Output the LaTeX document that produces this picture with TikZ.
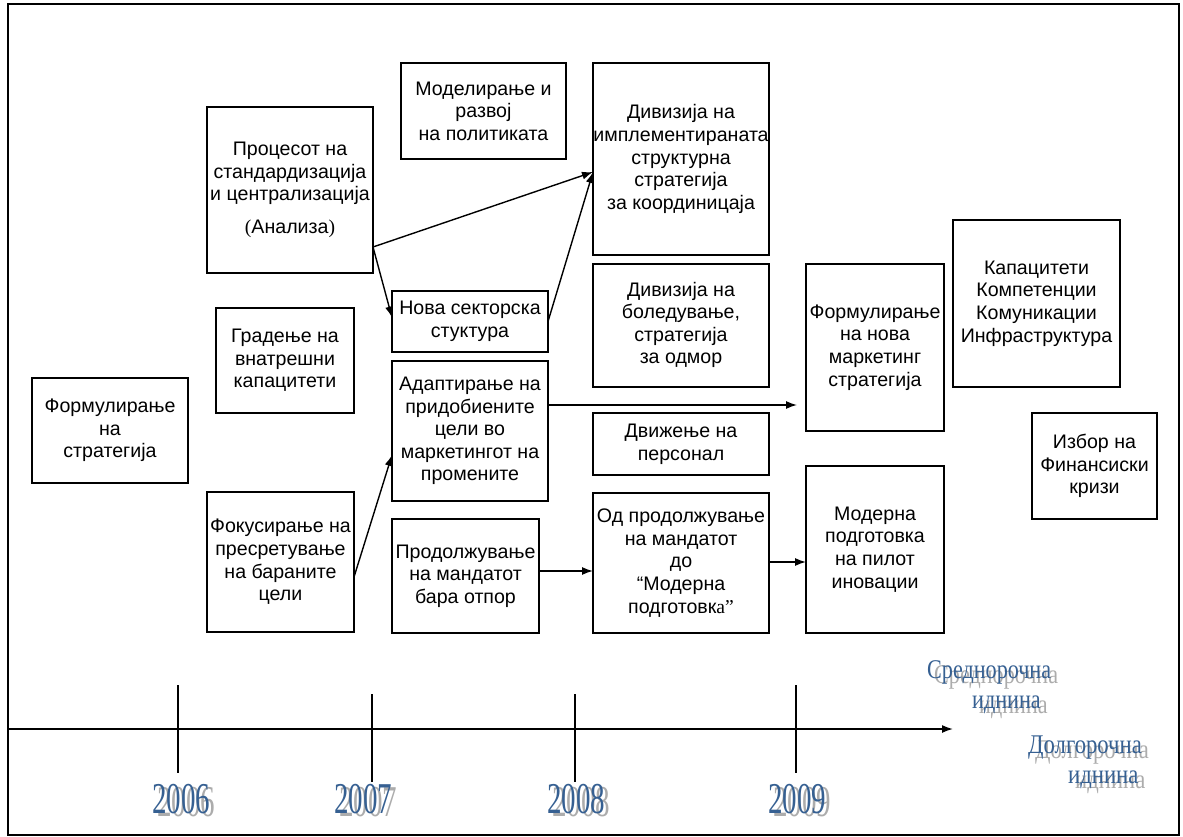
\documentclass[tikz,border=0pt]{standalone}
\usepackage{graphicx}
\usepackage{fontspec}
\setmainfont{Liberation Sans}
\newfontfamily\serifx{Liberation Serif}
\usetikzlibrary{arrows.meta,calc}
\definecolor{yearblue}{RGB}{54,96,146}
\definecolor{shadowgray}{RGB}{172,172,172}
% blue text with a grey drop shadow behind it: #1 x offset, #2 y offset, #3 horizontal scale, #4 text
\newcommand\shadetext[4]{%
  \rlap{\hspace{#1}\raisebox{-#2}{\textcolor{shadowgray}{\scalebox{#3}[1]{#4}}}}%
  \textcolor{yearblue}{\scalebox{#3}[1]{#4}}}
\begin{document}
\begin{tikzpicture}[x=1pt,y=-1pt,
  box/.style={draw, line width=1.1pt, inner sep=0pt, outer sep=0pt, align=center,
    font=\fontsize{19.6}{22.6}\selectfont},
  link/.style={line width=1.4pt, -{Latex[length=11pt,width=8pt]}},
  axis/.style={line width=1.6pt, -{Latex[length=11pt,width=8pt]}},
  tickline/.style={line width=1.1pt},
  year/.style={inner sep=0pt, anchor=base west,
    font=\serifx\fontsize{44}{44}\selectfont},
  horizon/.style={inner sep=0pt, anchor=base west,
    font=\serifx\fontsize{27}{27}\selectfont},
  ]
\useasboundingbox (0,0) rectangle (1183,837);
\draw[line width=1.2pt] (8,4) rectangle (1179,835);

% strategy boxes
\node[box, minimum width=166pt, minimum height=166pt] (proc) at (290,190)
  {Процесот на\\стандардизација\\и централизација\\[10pt]{\serifx(}Анализа{\serifx)}};
\node[box, minimum width=165pt, minimum height=96pt] (model) at (483.5,111)
  {Моделирање и\\развој\\на политиката};
\node[box, minimum width=176pt, minimum height=192pt] (divimpl) at (681,159)
  {Дивизија на\\имплементираната\\структурна\\стратегија\\за координицаја};
\node[box, minimum width=176pt, minimum height=123pt] (divbol) at (681,325.5)
  {\raisebox{-4pt}{\begin{tabular}{@{}c@{}}Дивизија на\\боледување,\\стратегија\\за одмор\end{tabular}}};
\node[box, minimum width=156pt, minimum height=61pt] (nova) at (470,321.5)
  {\raisebox{-6pt}{\begin{tabular}{@{}c@{}}Нова секторска\\стуктура\end{tabular}}};
\node[box, minimum width=156pt, minimum height=140pt] (adapt) at (470,431)
  {Адаптирање на\\придобиените\\цели во\\маркетингот на\\промените};
\node[box, minimum width=176pt, minimum height=62pt] (dvizh) at (681,444)
  {Движење на\\персонал};
\node[box, minimum width=147pt, minimum height=114pt] (prod) at (465.5,576)
  {Продолжување\\на мандатот\\бара отпор};
\node[box, minimum width=176pt, minimum height=140pt] (od) at (681,563)
  {Од продолжување\\на мандатот\\до\\“Модерна\\подготовк{\serifx а”}};
\node[box, minimum width=138pt, minimum height=167pt] (formnova) at (875,347.5)
  {Формулирање\\на нова\\маркетинг\\стратегија};
\node[box, minimum width=167pt, minimum height=167pt] (kapac) at (1036.5,303.5)
  {Капацитети\\Компетенции\\Комуникации\\Инфраструктура};
\node[box, minimum width=125pt, minimum height=106pt] (izbor) at (1094.5,466)
  {Избор на\\Финансиски\\кризи};
\node[box, minimum width=138pt, minimum height=167pt] (moderna) at (875,549.5)
  {Модерна\\подготовка\\на пилот\\иновации};
\node[box, minimum width=156pt, minimum height=105pt] (formstrat) at (110,430.5)
  {Формулирање\\на\\стратегија};
\node[box, minimum width=138pt, minimum height=105pt] (gradenje) at (285,360.5)
  {Градење на\\внатрешни\\капацитети};
\node[box, minimum width=147pt, minimum height=140pt] (fokus) at (280.5,562)
  {Фокусирање на\\пресретување\\на бараните\\цели};

% connectors
\draw[link] ([yshift=-57pt]proc.east) -- ([yshift=-13pt]divimpl.west);
\draw[link] ([yshift=-57pt]proc.east) -- ([yshift=4pt]nova.west);
\draw[link] (nova.east) -- ([yshift=-13pt]divimpl.west);
\draw[link] ([yshift=-15pt]fokus.east) -- ([yshift=-24pt]adapt.west);
\draw[link, shorten >=9pt] ([yshift=26pt]adapt.east) -- ([yshift=26pt]adapt.east -| formnova.west);
\draw[link] ([yshift=5pt]prod.east) -- ([yshift=5pt]prod.east -| od.west);
\draw[link] ([yshift=1pt]od.east) -- ([yshift=1pt]od.east -| moderna.west);

% time axis
\coordinate (axstart) at (8,729);
\coordinate (axend) at (953,729);
\draw[axis] (axstart) -- (axend);
\coordinate (t6a) at (178,685); \coordinate (t6b) at (178,773);
\coordinate (t7a) at (372,694); \coordinate (t7b) at (372,782);
\coordinate (t8a) at (575,694); \coordinate (t8b) at (575,782);
\coordinate (t9a) at (796,685); \coordinate (t9b) at (796,773);
\draw[tickline] (t6a) -- (t6b);
\draw[tickline] (t7a) -- (t7b);
\draw[tickline] (t8a) -- (t8b);
\draw[tickline] (t9a) -- (t9b);

% years
\node[year] (y6) at (152,813) {\shadetext{5pt}{3pt}{0.66}{2006}};
\node[year] (y7) at (334,813) {\shadetext{5pt}{3pt}{0.66}{2007}};
\node[year] (y8) at (547,813) {\shadetext{5pt}{3pt}{0.66}{2008}};
\node[year] (y9) at (768,813) {\shadetext{5pt}{3pt}{0.66}{2009}};

% planning horizons
\node[horizon] (midA) at (927,678) {\shadetext{7pt}{5pt}{0.82}{Среднорочна}};
\node[horizon] (midB) at (972,708) {\shadetext{7pt}{5pt}{0.82}{иднина}};
\node[horizon] (longA) at (1028,753) {\shadetext{7pt}{5pt}{0.84}{Долгорочна}};
\node[horizon] (longB) at (1068,783) {\shadetext{7pt}{5pt}{0.84}{иднина}};
\end{tikzpicture}
\end{document}
